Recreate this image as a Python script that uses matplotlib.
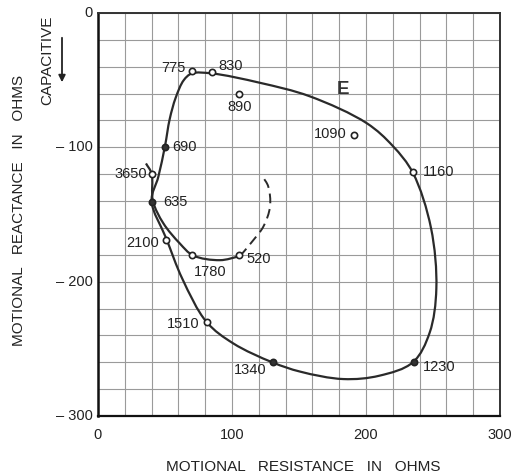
import matplotlib
matplotlib.use("Agg")
import matplotlib.pyplot as plt
from matplotlib.path import Path
from matplotlib.patches import PathPatch, FancyArrowPatch
import numpy as np

plt.rcParams['font.family'] = ['Liberation Sans', 'DejaVu Sans']

# ---- data ----
# main loop "E" (closed), starting at the 635 point going down
main_x = [40, 51, 63, 81, 101, 130, 151, 183, 210, 235, 247.5, 252.5,
          248.5, 235, 220, 200.5, 158, 121, 85, 70, 64, 58, 53.5, 50, 45]
main_y = [-140, -168, -198, -230, -246, -260, -267, -272.5, -270, -260, -238, -205,
          -160, -119, -99, -82, -62, -52, -45, -45, -50, -63, -79, -99, -122]

# second curve (solid part)
sec_x = [35.8, 40, 41, 48.8, 61, 71, 91, 106]
sec_y = [-112, -119.5, -140, -156.6, -171.5, -180.5, -184, -181]
# dashed continuation
dash_x = [106, 116, 123.4, 128.4, 127, 123]
dash_y = [-181, -169, -159, -144, -129, -122]

# measured points: label, x, y, filled
pt_labels = ['775', '830', '890', '690', '3650', '635', '2100', '1780', '520',
             '1510', '1340', '1230', '1160', '1090']
pt_x = [70, 85, 105, 50, 40, 40, 51, 70, 105.5, 81, 130.5, 235.5, 235, 191]
pt_y = [-43.5, -44, -60, -99.5, -119.5, -140.5, -169, -180.5, -180.5, -230, -260, -260, -118.7, -90.5]
pt_filled = [False, False, False, True, False, True, False, False, False,
             False, True, True, False, False]

# label placement (x, y, ha)
lab_x = [65.7, 89.6, 106, 55.2, 36.6, 48.5, 45.5, 83.6, 111, 76, 126, 242.5, 242.5, 185.8]
lab_y = [-41, -39.5, -70, -99.8, -120, -140.7, -171, -193, -183, -231.6, -266, -263.6, -118.4, -90]
lab_ha = ['right', 'left', 'center', 'left', 'right', 'left', 'right', 'center', 'left',
          'right', 'right', 'left', 'left', 'right']

x_ticks = [0, 100, 200, 300]
x_ticklabels = ['0', '100', '200', '300']
y_ticks = [0, -100, -200, -300]
y_ticklabels = ['0', '– 100', '– 200', '– 300']


def cr_path(xs, ys, closed=False, alpha=0.5):
    """Centripetal Catmull-Rom through the given points, as cubic Bezier path."""
    P = np.column_stack([xs, ys]).astype(float)
    n = len(P)
    verts = [P[0]]
    codes = [Path.MOVETO]
    segs = n if closed else n - 1
    for i in range(segs):
        p1 = P[i % n]
        p2 = P[(i + 1) % n]
        if closed or i > 0:
            p0 = P[(i - 1) % n]
        else:
            p0 = p1 - (p2 - p1)
        if closed or i + 2 < n:
            p3 = P[(i + 2) % n]
        else:
            p3 = p2 + (p2 - p1)
        d1 = max(np.linalg.norm(p1 - p0), 1e-6) ** alpha
        d2 = max(np.linalg.norm(p2 - p1), 1e-6) ** alpha
        d3 = max(np.linalg.norm(p3 - p2), 1e-6) ** alpha
        b1 = (d1 ** 2 * p2 - d2 ** 2 * p0 + (2 * d1 ** 2 + 3 * d1 * d2 + d2 ** 2) * p1) / (3 * d1 * (d1 + d2))
        b2 = (d3 ** 2 * p1 - d2 ** 2 * p3 + (2 * d3 ** 2 + 3 * d3 * d2 + d2 ** 2) * p2) / (3 * d3 * (d3 + d2))
        verts += [b1, b2, p2]
        codes += [Path.CURVE4] * 3
    return Path(verts, codes)


fig = plt.figure(figsize=(5.22, 4.75), dpi=100)
ax = fig.add_axes([98 / 522, 1 - 416 / 475, 402 / 522, 403 / 475])
ax.set_xlim(0, 300)
ax.set_ylim(-300, 0)

ax.set_xticks(np.arange(0, 301, 20))
ax.set_yticks(np.arange(-300, 1, 20))
ax.grid(True, color='#9a9a9a', linewidth=0.8)
ax.set_axisbelow(True)
ax.tick_params(length=0, labelbottom=False, labelleft=False)
for s in ax.spines.values():
    s.set_linewidth(1.4)
    s.set_color('#333333')
ax.spines['left'].set_color('#111111')
ax.spines['left'].set_linewidth(1.8)
ax.spines['bottom'].set_color('#111111')
ax.spines['bottom'].set_linewidth(1.6)

# tick labels as text
for xv, lab in zip(x_ticks, x_ticklabels):
    ax.annotate(lab, xy=(xv, -300), xytext=(0, -14), textcoords='offset points',
                ha='center', va='center', fontsize=10.5, color='#222222')
for yv, lab in zip(y_ticks, y_ticklabels):
    ax.annotate(lab, xy=(0, yv), xytext=(-4, 0), textcoords='offset points',
                ha='right', va='center', fontsize=10.5, color='#222222')

# curves
ax.add_patch(PathPatch(cr_path(main_x, main_y, closed=True), fill=False,
                       lw=1.6, color='#2a2a2a'))
ax.add_patch(PathPatch(cr_path(sec_x, sec_y), fill=False, lw=1.6, color='#2a2a2a'))
ax.add_patch(PathPatch(cr_path(dash_x, dash_y), fill=False, lw=1.4, color='#2a2a2a',
                       linestyle=(0, (5, 3))))

# points
for x, y, f in zip(pt_x, pt_y, pt_filled):
    ax.plot([x], [y], marker='o', ms=4.5, mew=1.2, mec='#222222',
            mfc='#333333' if f else 'white', zorder=5)

for lab, x, y, ha in zip(pt_labels, lab_x, lab_y, lab_ha):
    ax.text(x, y, lab, ha=ha, va='center', fontsize=10.5, color='#222222', zorder=6)

ax.text(182.8, -57.3, 'E', ha='center', va='center', fontsize=13.5, color='#333333',
        fontweight='bold')

# axis titles
fig.text(303 / 522, 1 - 467 / 475, 'MOTIONAL   RESISTANCE   IN   OHMS', ha='center',
         va='center', fontsize=11, color='#222222')
fig.text(19 / 522, 1 - 210 / 475, 'MOTIONAL   REACTANCE   IN   OHMS', ha='center',
         va='center', rotation=90, fontsize=11, color='#222222')
fig.text(47 / 522, 1 - 60 / 475, 'CAPACITIVE', ha='center', va='center', rotation=90,
         fontsize=11, color='#222222')
arrow = FancyArrowPatch((62, 475 - 35), (62, 475 - 85), transform=None,
                        arrowstyle='-|>', mutation_scale=10, lw=1.3, color='#222222')
fig.add_artist(arrow)

fig.savefig('out.png', dpi=100)
